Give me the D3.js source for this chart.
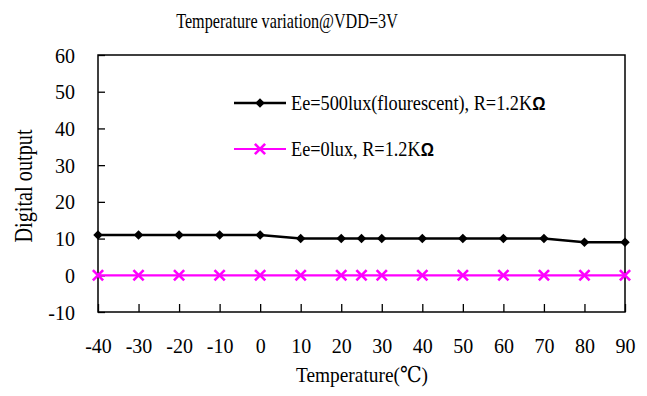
<!DOCTYPE html>
<html>
<head>
<meta charset="utf-8">
<script src="https://cdn.jsdelivr.net/npm/d3@7"></script>
<style>
  body { margin: 0; background: #fff; }
</style>
</head>
<body>
<div id="chart"></div>
<script>
// data
const temps500 = [-40, -30, -20, -10, 0, 10, 20, 25, 30, 40, 50, 60, 70, 80, 90]
const output500 = [11, 11, 11, 11, 11, 10, 10, 10, 10, 10, 10, 10, 10, 9, 9]
const temps0 = [-40, -30, -20, -10, 0, 10, 20, 25, 30, 40, 50, 60, 70, 80, 90]
const output0 = [0, 0, 0, 0, 0, 0, 0, 0, 0, 0, 0, 0, 0, 0, 0]
const xTicks = [-40, -30, -20, -10, 0, 10, 20, 30, 40, 50, 60, 70, 80, 90]
const yTicks = [-10, 0, 10, 20, 30, 40, 50, 60]
const seriesNames = ['Ee=500lux(flourescent), R=1.2K', 'Ee=0lux, R=1.2K']

const serif = "'Liberation Serif', 'DejaVu Serif', serif"

const margin = { top: 55, right: 22, bottom: 84, left: 98 }
const width = 647 - margin.left - margin.right
const height = 396 - margin.top - margin.bottom

const root = d3.select('#chart')
  .append('svg')
  .attr('width', 647)
  .attr('height', 396)
  .style('font-family', serif)

const svg = root.append('g')
  .attr('transform', 'translate(' + margin.left + ',' + margin.top + ')')

const x = d3.scaleLinear().domain([-40, 90]).range([0, width])
const y = d3.scaleLinear().domain([-10, 60]).range([height, 0])

// axes with inward ticks, plain hyphen for negatives
const xAxis = d3.axisBottom(x).tickValues(xTicks).tickSize(-8).tickPadding(27).tickFormat(d => String(d))
const yAxis = d3.axisLeft(y).tickValues(yTicks).tickSize(-7).tickPadding(23).tickFormat(d => String(d))

svg.append('g')
  .attr('class', 'x-axis')
  .attr('transform', 'translate(0,' + height + ')')
  .call(xAxis)

svg.append('g')
  .attr('class', 'y-axis')
  .call(yAxis)

svg.selectAll('.x-axis, .y-axis').attr('font-family', null).attr('font-size', null)
svg.selectAll('.domain').remove()
svg.selectAll('.tick line').attr('stroke', '#000').attr('stroke-width', 1.3)
svg.selectAll('.tick text')
  .style('font-family', serif)
  .attr('font-size', 20)
  .attr('fill', '#000')
svg.selectAll('.y-axis .tick text').attr('dy', '0.35em')

// plot border
svg.append('rect')
  .attr('x', 0)
  .attr('y', 0)
  .attr('width', width)
  .attr('height', height)
  .attr('fill', 'none')
  .attr('stroke', '#000')
  .attr('stroke-width', 1.5)

const line = d3.line().x(d => x(d[0])).y(d => y(d[1]))

const data500 = temps500.map((t, i) => [t, output500[i]])
const data0 = temps0.map((t, i) => [t, output0[i]])

// magenta series
svg.append('path')
  .datum(data0)
  .attr('d', line)
  .attr('fill', 'none')
  .attr('stroke', '#ff00ff')
  .attr('stroke-width', 2.2)

const cross = d3.symbol().type(d3.symbolX).size(70)
svg.selectAll('.cross')
  .data(data0)
  .enter()
  .append('path')
  .attr('class', 'cross')
  .attr('d', cross)
  .attr('transform', d => 'translate(' + x(d[0]) + ',' + y(d[1]) + ')')
  .attr('fill', 'none')
  .attr('stroke', '#ff00ff')
  .attr('stroke-width', 2.6)

// black series
svg.append('path')
  .datum(data500)
  .attr('d', line)
  .attr('fill', 'none')
  .attr('stroke', '#000')
  .attr('stroke-width', 2.5)

const diamond = d3.symbol().type(d3.symbolDiamond2).size(58)
svg.selectAll('.diamond')
  .data(data500)
  .enter()
  .append('path')
  .attr('class', 'diamond')
  .attr('d', diamond)
  .attr('transform', d => 'translate(' + x(d[0]) + ',' + y(d[1]) + ')')
  .attr('fill', '#000')

// legend
const legend = root.append('g').attr('transform', 'translate(234,103)')
const legendRows = [
  { name: seriesNames[0], color: '#000', sym: diamond, fill: '#000', sw: 2.5 },
  { name: seriesNames[1], color: '#ff00ff', sym: cross, fill: 'none', sw: 2.2 }
]
legendRows.forEach((r, i) => {
  const g = legend.append('g').attr('transform', 'translate(0,' + i * 46 + ')')
  g.append('line')
    .attr('x1', 0).attr('x2', 52)
    .attr('y1', 0).attr('y2', 0)
    .attr('stroke', r.color)
    .attr('stroke-width', r.sw)
  g.append('path')
    .attr('d', r.sym)
    .attr('transform', 'translate(26,0)')
    .attr('fill', r.fill)
    .attr('stroke', r.fill === 'none' ? r.color : null)
    .attr('stroke-width', 2.6)
  const t = g.append('text')
    .attr('transform', 'translate(57,7) scale(0.87,1)')
    .attr('font-size', 21)
  t.append('tspan').text(r.name)
  t.append('tspan')
    .style('font-family', "'Liberation Sans', 'DejaVu Sans', sans-serif")
    .attr('font-weight', 'bold')
    .attr('font-size', 19)
    .text('Ω')
})

// titles (tall, narrow letters as in the original)
root.append('text')
  .attr('transform', 'translate(287,28) scale(0.735,1)')
  .attr('text-anchor', 'middle')
  .attr('font-size', 22)
  .text('Temperature variation@VDD=3V')

root.append('text')
  .attr('transform', 'translate(362,382) scale(0.88,1)')
  .attr('text-anchor', 'middle')
  .attr('font-size', 22)
  .text('Temperature(℃)')

root.append('text')
  .attr('transform', 'translate(32,186) rotate(-90) scale(0.78,1)')
  .attr('text-anchor', 'middle')
  .attr('font-size', 26)
  .text('Digital output')
</script>
</body>
</html>
